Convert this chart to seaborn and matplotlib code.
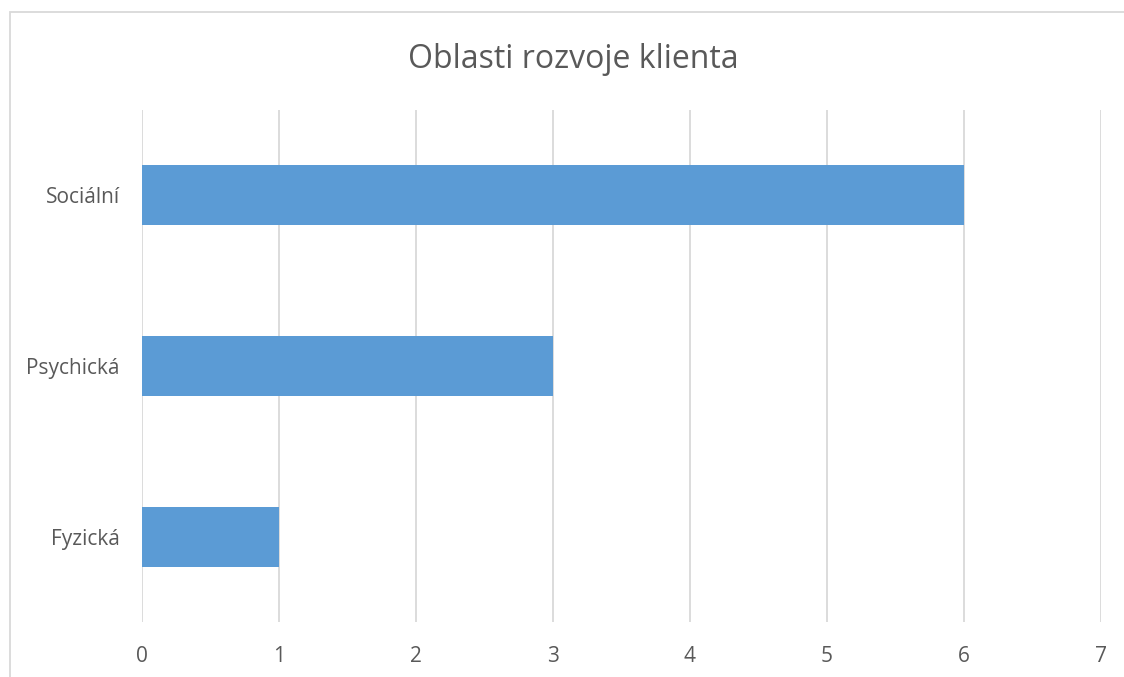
import matplotlib
matplotlib.use("Agg")
import matplotlib.pyplot as plt
import seaborn as sns
import pandas as pd
from matplotlib.patches import Rectangle

categories = ["Sociální", "Psychická", "Fyzická"]
values = [6, 3, 1]
xticks = [0, 1, 2, 3, 4, 5, 6, 7]
title = "Oblasti rozvoje klienta"

df = pd.DataFrame({"oblast": categories, "pocet": values})

sns.set_theme(style="white")
plt.rcParams["font.family"] = ["Open Sans", "DejaVu Sans"]

W, H = 1124, 677
fig = plt.figure(figsize=(W / 100, H / 100), dpi=100)
ax = fig.add_axes([142 / W, 1 - 622 / H, (1101 - 142) / W, (622 - 110) / H])

sns.barplot(data=df, x="pocet", y="oblast", order=categories, orient="h",
            color="#5B9BD5", saturation=1, width=0.35, linewidth=0, ax=ax)

ax.set_xlim(0, 7)
ax.set_ylim(2.5, -0.5)
ax.set_xticks(xticks)
ax.set_xticklabels([str(t) for t in xticks])
ax.xaxis.grid(True, color="#D9D9D9", linewidth=1.3)
ax.set_axisbelow(True)
for s in ax.spines.values():
    s.set_visible(False)
ax.set_xlabel("")
ax.set_ylabel("")
ax.tick_params(axis="x", length=0, pad=17, labelsize=15, labelcolor="#595959")
ax.tick_params(axis="y", length=0, pad=16, labelsize=15, labelcolor="#595959")

fig.text(573 / W, 1 - 60 / H, title, ha="center", va="center", fontsize=23, color="#595959")

fig.patches.append(Rectangle((10 / W, -0.1), 1.2, 1 - 12 / H + 0.1,
                             transform=fig.transFigure, fill=False,
                             edgecolor="#D9D9D9", linewidth=1.3))

fig.savefig("out.png", dpi=100, facecolor="white")
